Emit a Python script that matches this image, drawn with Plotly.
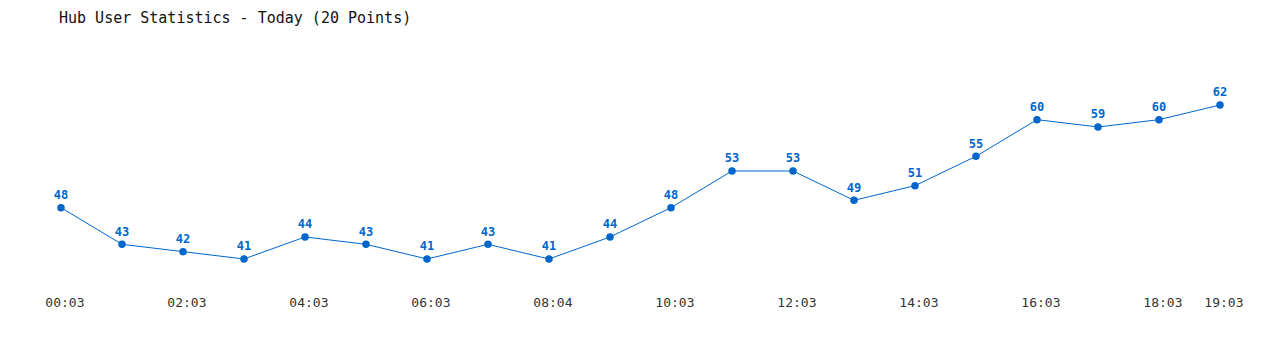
import plotly.graph_objects as go

times = ["00:03", "01:03", "02:03", "03:03", "04:03", "05:03", "06:03", "07:03", "08:04", "09:03",
         "10:03", "11:03", "12:03", "13:03", "14:03", "15:03", "16:03", "17:03", "18:03", "19:03"]
users = [48, 43, 42, 41, 44, 43, 41, 43, 41, 44, 48, 53, 53, 49, 51, 55, 60, 59, 60, 62]
tick_idx = [0, 2, 4, 6, 8, 10, 12, 14, 16, 18, 19]

xs = list(range(len(times)))
color = "#0066cc"
mono = "DejaVu Sans Mono"

fig = go.Figure(go.Scatter(
    x=xs, y=users, mode="lines+markers+text",
    line=dict(color=color, width=1),
    marker=dict(color=color, size=7.5),
    text=[str(v) for v in users], textposition="top center",
    textfont=dict(family=mono, size=12, color=color, weight="bold"),
    cliponaxis=False, hoverinfo="skip",
))

fig.update_layout(
    width=1280, height=350,
    paper_bgcolor="white", plot_bgcolor="white",
    margin=dict(l=61, r=60, t=50, b=60),
    showlegend=False,
    title=dict(text="Hub User Statistics - Today (20 Points)", x=59 / 1280, xanchor="left",
               y=1 - 18 / 350, yanchor="middle",
               font=dict(family=mono, size=15, color="#111111")),
)
fig.update_xaxes(range=[0, 19], showgrid=False, zeroline=False, showline=False,
                 tickmode="array", tickvals=tick_idx, ticktext=[" " + times[i] for i in tick_idx],
                 ticks="outside", ticklen=0, tickcolor="white",
                 tickfont=dict(family=mono, size=13, color="#333333"))
fig.update_yaxes(range=[36.77, 69.5], showgrid=False, zeroline=False, showline=False,
                 showticklabels=False)

fig.write_html("out.html")
